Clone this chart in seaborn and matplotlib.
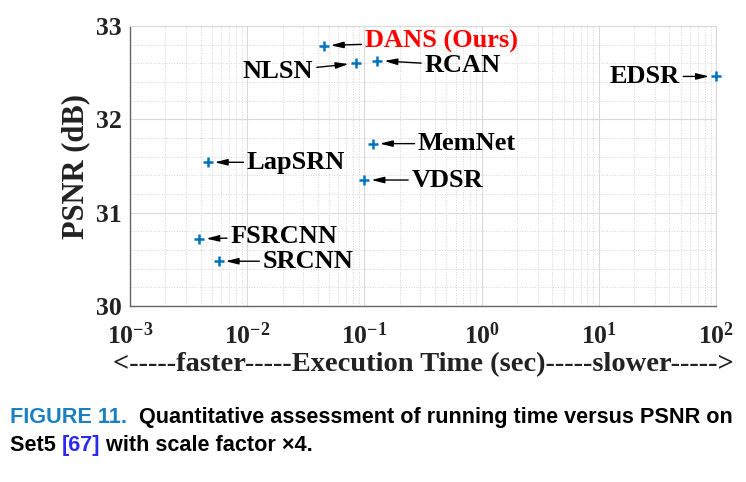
import matplotlib
matplotlib.use("Agg")
import matplotlib.pyplot as plt
import matplotlib.ticker as mticker
import seaborn as sns
import pandas as pd

# running time (sec) vs PSNR (dB), Set5 x4
methods = ['DANS (Ours)', 'NLSN', 'RCAN', 'EDSR', 'MemNet', 'VDSR', 'LapSRN', 'FSRCNN', 'SRCNN']
run_time = [0.045, 0.084, 0.129, 100, 0.118, 0.100, 0.0046, 0.0039, 0.0057]
psnr = [32.79, 32.60, 32.63, 32.46, 31.74, 31.35, 31.54, 30.72, 30.48]

# label offsets from the marker, in pixels (dx, dy); negative dx puts the text on the left
label_dx = [41, -42, 47, -36, 45, 47, 39, 31, 44]
label_dy = [4, -8, -5, 0, 0, 0, 0, 2, 0]

df = pd.DataFrame({'method': methods, 'time': run_time, 'psnr': psnr})

sns.set_style("white")
plt.rcParams['font.family'] = ['Liberation Serif', 'DejaVu Serif']
plt.rcParams['font.weight'] = 'bold'
plt.rcParams['mathtext.fontset'] = 'custom'
plt.rcParams['mathtext.rm'] = 'Liberation Serif:bold'
plt.rcParams['mathtext.it'] = 'Liberation Serif:bold'
plt.rcParams['mathtext.bf'] = 'Liberation Serif:bold'

fig = plt.figure(figsize=(7.46, 4.82), dpi=100)
ax = fig.add_axes([0.1743, 0.3651, 0.7855, 0.5809])

sns.scatterplot(data=df, x='time', y='psnr', marker='+', s=45, color='#0072BD',
                linewidth=1.8, ax=ax, legend=False, zorder=5, clip_on=False)

ax.set_xscale('log')
ax.set_xlim(1e-3, 1e2)
ax.set_ylim(30, 33)
ax.set_yticks([30, 31, 32, 33])
ax.yaxis.set_minor_locator(mticker.MultipleLocator(0.2))
ax.xaxis.set_major_locator(mticker.LogLocator(base=10, numticks=10))
ax.xaxis.set_minor_locator(mticker.LogLocator(base=10, subs=range(2, 10), numticks=10))
ax.xaxis.set_major_formatter(mticker.FuncFormatter(lambda v, p: r'$\mathregular{10^{%d}}$' % round(__import__('math').log10(v))))
ax.xaxis.set_minor_formatter(mticker.NullFormatter())

ax.grid(which='major', color='#dadada', linewidth=0.8, linestyle='-')
ax.grid(which='minor', color='#d4d4d4', linewidth=0.7, linestyle=':')
ax.set_axisbelow(True)

for side in ['top', 'right']:
    ax.spines[side].set_color('#dadada')
    ax.spines[side].set_linewidth(0.8)
for side in ['left', 'bottom']:
    ax.spines[side].set_color('#666666')
    ax.spines[side].set_linewidth(1.0)

ax.tick_params(which='major', direction='in', length=5, width=0.8, color='#444444',
               labelsize=18.5)
ax.tick_params(axis='y', which='major', pad=6)
ax.tick_params(axis='x', which='major', pad=12)
ax.tick_params(axis='x', which='minor', direction='in', length=3, width=0.6, color='#444444')
ax.tick_params(axis='y', which='minor', length=0)

ax.set_xlabel('<-----faster-----Execution Time (sec)-----slower----->', fontsize=20.5,
              fontweight='bold', color='#222222', labelpad=2)
ax.set_ylabel('PSNR (dB)', fontsize=22, fontweight='bold', color='#222222', labelpad=4)
for lbl in ax.get_xticklabels() + ax.get_yticklabels():
    lbl.set_color('#222222')

for name, x, y, dx, dy in zip(methods, run_time, psnr, label_dx, label_dy):
    color = 'red' if 'Ours' in name else 'black'
    ax.annotate(name, xy=(x, y), xytext=(dx, dy), textcoords='offset pixels',
                ha='left' if dx > 0 else 'right', va='center',
                fontsize=19, fontweight='bold', color=color,
                arrowprops=dict(arrowstyle='-|>,head_length=0.4,head_width=0.1',
                                color='black', lw=1.0, shrinkA=0, shrinkB=5))

# caption
blue = '#1a80c2'
cap_font = ['Liberation Sans Narrow', 'Liberation Sans', 'DejaVu Sans']
cap_kw = dict(fontsize=15.6, fontweight='bold', family=cap_font)
t1 = fig.text(0.013, 0.113, 'FIGURE 11.', color=blue, ha='left', va='bottom', **cap_kw)
ax.annotate('  Quantitative assessment of running time versus PSNR on', xy=(1, 0),
            xycoords=t1, ha='left', va='bottom', color='black', annotation_clip=False, **cap_kw)
t3 = fig.text(0.013, 0.053, 'Set5 ', color='black', ha='left', va='bottom', **cap_kw)
t4 = ax.annotate('[67]', xy=(1, 0), xycoords=t3, ha='left', va='bottom', color='#2a2af0',
                 annotation_clip=False, **cap_kw)
ax.annotate(' with scale factor \u00d74.', xy=(1, 0), xycoords=t4, ha='left', va='bottom',
            color='black', annotation_clip=False, **cap_kw)

fig.savefig('out.png', dpi=100)
